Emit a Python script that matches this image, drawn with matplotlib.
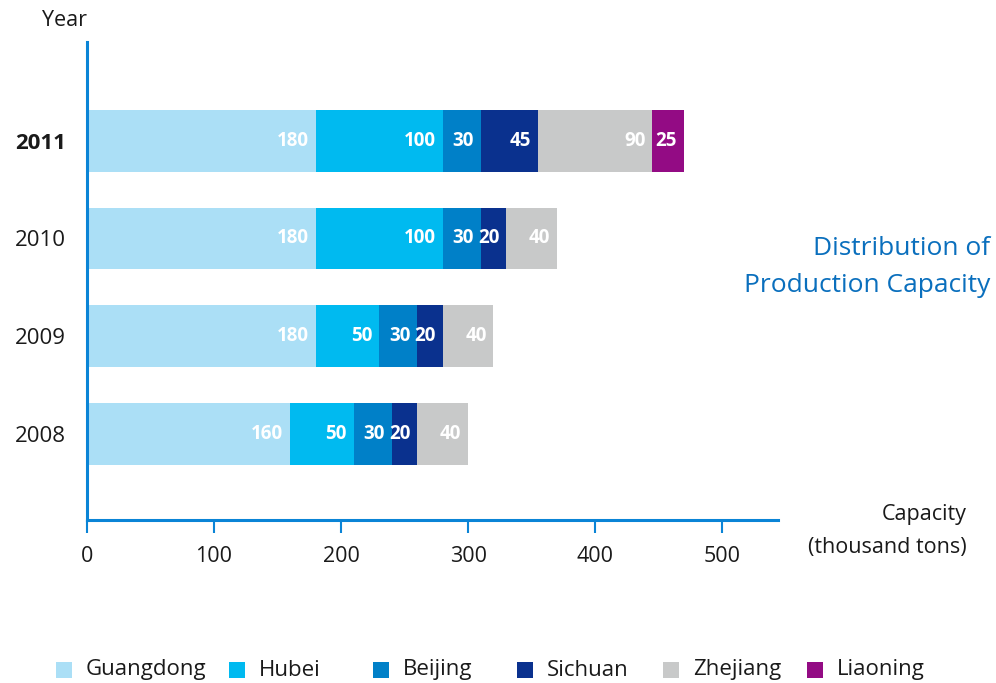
import numpy as np
import matplotlib
matplotlib.use('Agg')
import matplotlib.pyplot as plt
from matplotlib.patches import Rectangle

plt.rcParams['font.family'] = ['Open Sans', 'DejaVu Sans']

# 数据
years = ['2008', '2009', '2010', '2011']
provinces = ['Guangdong', 'Hubei', 'Beijing', 'Sichuan', 'Zhejiang', 'Liaoning']
guangdong = [160, 180, 180, 180]
hubei = [50, 50, 100, 100]
beijing = [30, 30, 30, 30]
sichuan = [20, 20, 20, 45]
zhejiang = [40, 40, 40, 90]
liaoning = [0, 0, 0, 25]
colors = ['#abdff6', '#00baf0', '#0080c8', '#0a318e', '#c8c9c9', '#930b84']
axis_color = '#0a84d6'

series = [guangdong, hubei, beijing, sichuan, zhejiang, liaoning]

fig = plt.figure(figsize=(9.96, 6.83), dpi=100)
ax = fig.add_axes([87 / 996, 163 / 683, (778 - 87) / 996, (520 - 42) / 683])

y = np.arange(len(years))
left = np.zeros(len(years))
for vals, c in zip(series, colors):
    vals = np.array(vals, dtype=float)
    ax.barh(y, vals, left=left, height=0.63, color=c, linewidth=0)
    for yi, (l, v) in enumerate(zip(left, vals)):
        if v > 0:
            ax.annotate(str(int(v)), (l + v, yi), xytext=(-5, 0), textcoords='offset points',
                        ha='right', va='center', color='white', fontsize=13.5, fontweight='bold')
    left += vals

ax.set_xlim(0, 544)
ax.set_ylim(-0.88, 4.01)
ax.set_xticks([0, 100, 200, 300, 400, 500])
ax.set_yticks(y)
ax.set_yticklabels(years)
for lab in ax.get_yticklabels():
    if lab.get_text() == '2011':
        lab.set_fontweight('bold')
ax.tick_params(axis='x', direction='out', length=9, width=1.5, color=axis_color,
               labelsize=15.5, pad=10, labelcolor='#1a1a1a')
ax.tick_params(axis='y', length=0, labelsize=16, pad=15, labelcolor='#1a1a1a')
for s in ['top', 'right']:
    ax.spines[s].set_visible(False)
for s in ['left', 'bottom']:
    ax.spines[s].set_color(axis_color)
    ax.spines[s].set_linewidth(2.2)

fig.text(64 / 996, 1 - 20 / 683, 'Year', ha='center', va='center', fontsize=15.5, color='#1a1a1a')
fig.text(967 / 996, 1 - 531 / 683, 'Capacity\n(thousand tons)', ha='right', va='center',
         fontsize=15.5, color='#1a1a1a', linespacing=1.75, multialignment='right')
fig.text(990 / 996, 1 - 267 / 683, 'Distribution of\nProduction Capacity', ha='right', va='center',
         fontsize=19, color='#0a6fbd', linespacing=1.65, multialignment='right')

# 图例
legend_x = [56, 229, 373, 517, 663, 807]
for x0, name, c in zip(legend_x, provinces, colors):
    fig.patches.append(Rectangle((x0 / 996, 1 - 678 / 683), 16 / 996, 16 / 683,
                                 transform=fig.transFigure, color=c, linewidth=0))
    fig.text((x0 + 30) / 996, 1 - 670 / 683, name, ha='left', va='center',
             fontsize=16, color='#1a1a1a')

plt.savefig('out.png', dpi=100)
